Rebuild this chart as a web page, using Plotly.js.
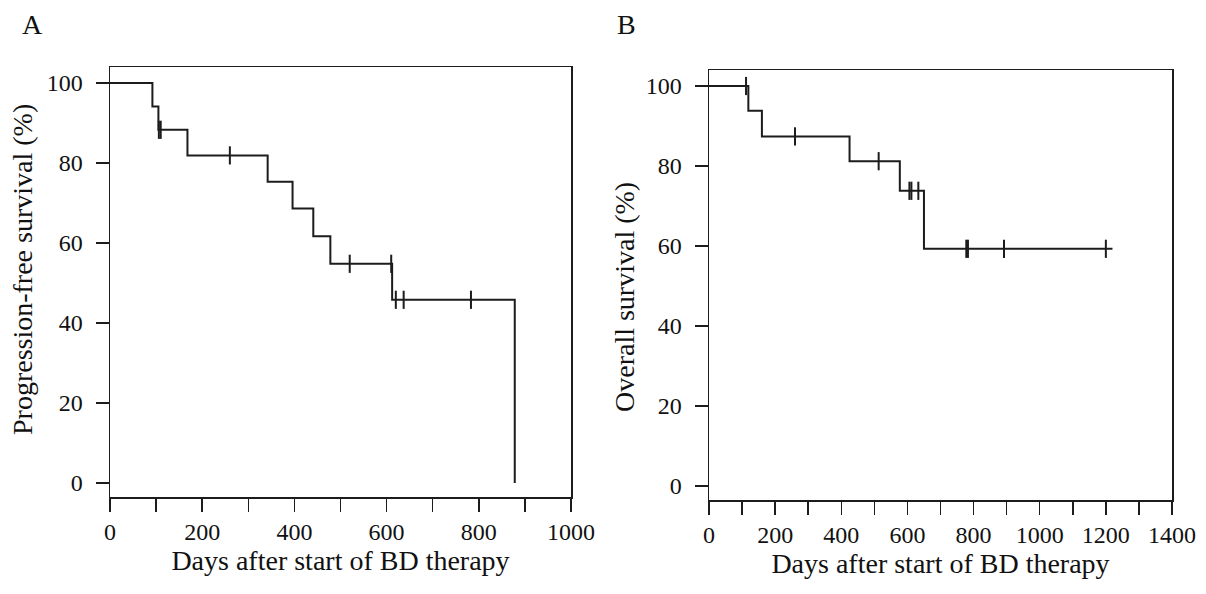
<!DOCTYPE html>
<html>
<head>
<meta charset="utf-8">
<script src="https://cdn.plot.ly/plotly-3.0.1.min.js"></script>
<style>html,body{margin:0;padding:0;background:#fff;}#chart{width:1206px;height:594px;}</style>
</head>
<body>
<div id="chart"></div>
<script>
// Panel A: progression-free survival (Kaplan-Meier steps)
const pfsTimes = [0, 92, 105, 168, 342, 396, 441, 478, 612, 878];
const pfsSurv  = [100, 94.1, 88.3, 81.9, 75.3, 68.6, 61.7, 54.8, 45.8, 0];
const pfsCensor = [106, 110, 260, 520, 610, 620, 637, 783];

// Panel B: overall survival
const osTimes = [0, 119, 160, 425, 577, 650, 1220];
const osSurv  = [100, 93.8, 87.4, 81.2, 73.8, 59.3, 59.3];
const osCensor = [112, 260, 513, 606, 612, 633, 778, 783, 892, 1200];

const xTicksA = [0,100,200,300,400,500,600,700,800,900,1000];
const xTicksB = [0,100,200,300,400,500,600,700,800,900,1000,1100,1200,1300,1400];
const yTicks = [0,20,40,60,80,100];

const panelLabels = ['A', 'B'];
const xTitle = 'Days after start of BD therapy';
const yTitleA = 'Progression-free survival (%)';
const yTitleB = 'Overall survival (%)';

function survAt(times, surv, t) {
  let v = surv[0];
  for (let i = 0; i < times.length; i++) { if (times[i] <= t) v = surv[i]; }
  return v;
}
function everyOther(vals) { return vals.map((v, i) => (i % 2 === 0 ? String(v) : '')); }

const ink = '#1c1c1c';
const serif = 'Liberation Serif, Times New Roman, serif';

const censorMarker = {symbol: 'line-ns-open', size: 13, color: ink, line: {color: ink, width: 2}};
const traces = [
  { x: pfsTimes, y: pfsSurv, mode: 'lines', line: {shape: 'hv', color: ink, width: 2}, xaxis: 'x', yaxis: 'y', hoverinfo: 'skip' },
  { x: pfsCensor, y: pfsCensor.map(t => survAt(pfsTimes, pfsSurv, t)), mode: 'markers',
    marker: censorMarker, xaxis: 'x', yaxis: 'y', hoverinfo: 'skip' },
  { x: osTimes, y: osSurv, mode: 'lines', line: {shape: 'hv', color: ink, width: 2}, xaxis: 'x2', yaxis: 'y2', hoverinfo: 'skip' },
  { x: osCensor, y: osCensor.map(t => survAt(osTimes, osSurv, t)), mode: 'markers',
    marker: censorMarker, xaxis: 'x2', yaxis: 'y2', hoverinfo: 'skip' }
];

const W = 1206, H = 594;
function axisCommon() {
  return {
    showline: true, mirror: true, linecolor: ink, linewidth: 1.5,
    ticks: 'outside', ticklen: 13, tickwidth: 1.5, tickcolor: ink,
    showgrid: false, zeroline: false,
    tickfont: {family: serif, size: 24, color: '#111'}
  };
}
const titleFont = {family: serif, size: 28, color: '#111'};

const layout = {
  width: W, height: H,
  margin: {l: 0, r: 0, t: 0, b: 0},
  paper_bgcolor: '#fff', plot_bgcolor: '#fff',
  showlegend: false,
  xaxis: Object.assign(axisCommon(), {
    domain: [110 / W, 571 / W], range: [0, 1000], anchor: 'y',
    tickmode: 'array', tickvals: xTicksA, ticktext: everyOther(xTicksA),
    title: {text: xTitle, font: titleFont, standoff: 2}
  }),
  yaxis: Object.assign(axisCommon(), {
    domain: [1 - 497 / H, 1 - 67 / H], range: [-3.5, 104], anchor: 'x',
    tickmode: 'array', tickvals: yTicks, ticklabelstandoff: 8
  }),
  xaxis2: Object.assign(axisCommon(), {
    domain: [709 / W, 1172 / W], range: [0, 1400], anchor: 'y2',
    tickmode: 'array', tickvals: xTicksB, ticktext: everyOther(xTicksB),
    title: {text: xTitle, font: titleFont, standoff: 2}
  }),
  yaxis2: Object.assign(axisCommon(), {
    domain: [1 - 500 / H, 1 - 70 / H], range: [-3.5, 104], anchor: 'x2',
    tickmode: 'array', tickvals: yTicks, ticklabelstandoff: 8
  }),
  annotations: [
    {text: panelLabels[0], xref: 'paper', yref: 'paper', x: 32 / W, y: 1 - 25 / H, xanchor: 'center', yanchor: 'middle',
     showarrow: false, font: {family: serif, size: 28, color: '#111'}},
    {text: panelLabels[1], xref: 'paper', yref: 'paper', x: 626 / W, y: 1 - 25 / H, xanchor: 'center', yanchor: 'middle',
     showarrow: false, font: {family: serif, size: 28, color: '#111'}},
    {text: yTitleA, xref: 'paper', yref: 'paper', x: 22 / W, y: 1 - 270 / H, xanchor: 'center', yanchor: 'middle',
     textangle: -90, showarrow: false, font: titleFont},
    {text: yTitleB, xref: 'paper', yref: 'paper', x: 624 / W, y: 1 - 297 / H, xanchor: 'center', yanchor: 'middle',
     textangle: -90, showarrow: false, font: titleFont}
  ]
};

Plotly.newPlot('chart', traces, layout, {displayModeBar: false, staticPlot: true});
</script>
</body>
</html>
